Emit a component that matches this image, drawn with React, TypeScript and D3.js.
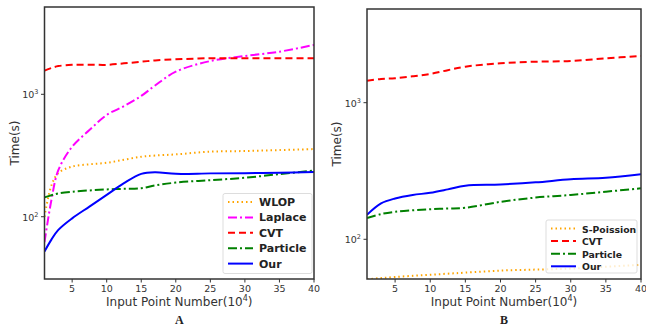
import React from 'react';
import * as d3 from 'd3';

// x positions (10^4 points)
const xsA = [1, 2, 3, 5, 7.5, 10, 12.5, 15, 17, 20, 25, 30, 35, 40];
const wlopA = [100, 180, 227, 257, 268, 276, 292, 309, 316, 323, 340, 344, 350, 357];
const laplaceA = [62, 137, 240, 373, 510, 678, 800, 970, 1180, 1530, 1870, 2055, 2230, 2530];
const cvtA = [1560, 1640, 1700, 1740, 1745, 1740, 1790, 1845, 1890, 1930, 1970, 1970, 1970, 1970];
const particleA = [144, 150, 155, 160, 164, 167, 169, 171, 180, 190, 199, 208, 223, 238];
const ourA = [52, 65, 78, 97, 121, 151, 188, 224, 231, 224, 226, 227, 229, 232];

const xsB = [1, 3, 5, 7.5, 10, 12.5, 15, 20, 25, 30, 35, 40];
const spoissonB = [51, 52, 53, 54, 55, 56, 57, 59, 60, 61, 63, 65];
const cvtB = [1450, 1490, 1510, 1560, 1623, 1730, 1835, 1943, 1995, 2018, 2113, 2200];
const particleB = [143, 153, 159, 163, 166, 168, 170, 188, 202, 211, 223, 236];
const ourB = [151, 183, 199, 211, 219, 232, 247, 252, 261, 275, 282, 299];

const xTicks = [5, 10, 15, 20, 25, 30, 35, 40];
const yTicks = [100, 1000];

type Series = { name: string; values: number[]; color: string; dash: string; width: number };

const FONT = 'DejaVu Sans, sans-serif';

function Panel(props: {
  left: number; right: number; top: number; bottom: number;
  yDomain: [number, number]; xs: number[]; series: Series[];
  legend: { x0: number; y0: number; w: number; h: number; step: number; font: number };
  letter: string;
}) {
  const { left, right, top, bottom, yDomain, xs, series, legend, letter } = props;
  const x = d3.scaleLinear().domain([1, 40]).range([left, right]);
  const y = d3.scaleLog().domain(yDomain).range([bottom, top]);
  const line = d3.line<[number, number]>()
    .x(d => x(d[0]))
    .y(d => y(d[1]))
    .curve(d3.curveCatmullRom.alpha(0.5));
  const cx = (left + right) / 2;
  const cy = (top + bottom) / 2;
  return (
    <g>
      <defs>
        <clipPath id={'clip' + letter}>
          <rect x={left} y={top} width={right - left} height={bottom - top} />
        </clipPath>
      </defs>
      <g clipPath={`url(#clip${letter})`}>
        {series.map(s => (
          <path key={s.name} d={line(xs.map((v, i) => [v, s.values[i]]) as [number, number][]) || ''}
            fill="none" stroke={s.color} strokeWidth={s.width} strokeDasharray={s.dash} />
        ))}
      </g>
      <rect x={left} y={top} width={right - left} height={bottom - top} fill="none" stroke="#333" strokeWidth={1.5} />
      {xTicks.map(t => (
        <g key={t}>
          <line x1={x(t)} x2={x(t)} y1={bottom} y2={bottom + 3.5} stroke="#333" />
          <text x={x(t)} y={bottom + 13} fontSize={9.5} textAnchor="middle" fill="#333" fontFamily={FONT}>{t}</text>
        </g>
      ))}
      {yTicks.map(t => (
        <g key={t}>
          <line x1={left - 3.5} x2={left} y1={y(t)} y2={y(t)} stroke="#333" />
          <text x={left - 6} y={y(t) + 4} fontSize={9.5} textAnchor="end" fill="#333" fontFamily={FONT}>
            10<tspan dy={-4} fontSize={6.5}>{Math.round(Math.log10(t))}</tspan>
          </text>
        </g>
      ))}
      <text x={cx} y={bottom + 27} fontSize={12} textAnchor="middle" fill="#333" fontFamily={FONT}>
        Input Point Number(10<tspan dy={-5} fontSize={8}>4</tspan><tspan dy={5}>)</tspan>
      </text>
      <text transform={`translate(${left - 26},${cy}) rotate(-90)`} fontSize={12} textAnchor="middle" fill="#333" fontFamily={FONT}>Time(s)</text>
      <text x={cx} y={bottom + 45} fontSize={12} fontWeight="bold" textAnchor="middle" fill="#222" fontFamily="Liberation Serif, serif">{letter}</text>
      <rect x={legend.x0} y={legend.y0} width={legend.w} height={legend.h} rx={2} fill="#fff" fillOpacity={0.8} stroke="#ddd" />
      {series.map((s, i) => {
        const ly = legend.y0 + 8.5 + i * legend.step;
        return (
          <g key={s.name}>
            <line x1={legend.x0 + 5} x2={legend.x0 + 30} y1={ly} y2={ly} stroke={s.color} strokeWidth={s.width} strokeDasharray={s.dash} />
            <text x={legend.x0 + 36} y={ly + 4} fontSize={legend.font} fontWeight="bold" fill="#222" fontFamily={FONT}>{s.name}</text>
          </g>
        );
      })}
    </g>
  );
}

export default function App() {
  const seriesA: Series[] = [
    { name: 'WLOP', values: wlopA, color: '#ffa500', dash: '1.5 3', width: 2 },
    { name: 'Laplace', values: laplaceA, color: '#ff00ff', dash: '9 3 2 3', width: 2 },
    { name: 'CVT', values: cvtA, color: '#ff0000', dash: '7 4', width: 2 },
    { name: 'Particle', values: particleA, color: '#008000', dash: '9 3 2 3', width: 2 },
    { name: 'Our', values: ourA, color: '#0000ff', dash: '', width: 2 },
  ];
  const seriesB: Series[] = [
    { name: 'S-Poission', values: spoissonB, color: '#ffa500', dash: '1.5 3', width: 2 },
    { name: 'CVT', values: cvtB, color: '#ff0000', dash: '7 4', width: 2 },
    { name: 'Particle', values: particleB, color: '#008000', dash: '9 3 2 3', width: 2 },
    { name: 'Our', values: ourB, color: '#0000ff', dash: '', width: 2 },
  ];
  return (
    <svg width={646} height={328} style={{ position: 'absolute', left: 0, top: 0, background: '#fff' }}>
      <Panel left={44.5} right={314} top={7} bottom={279} yDomain={[31, 5165]} xs={xsA} series={seriesA}
        legend={{ x0: 223, y0: 193.5, w: 89, h: 80, step: 15.4, font: 11 }} letter="A" />
      <Panel left={367} right={641} top={9} bottom={279} yDomain={[51.2, 4850]} xs={xsB} series={seriesB}
        legend={{ x0: 546, y0: 220, w: 91, h: 53, step: 12.6, font: 9.3 }} letter="B" />
    </svg>
  );
}
